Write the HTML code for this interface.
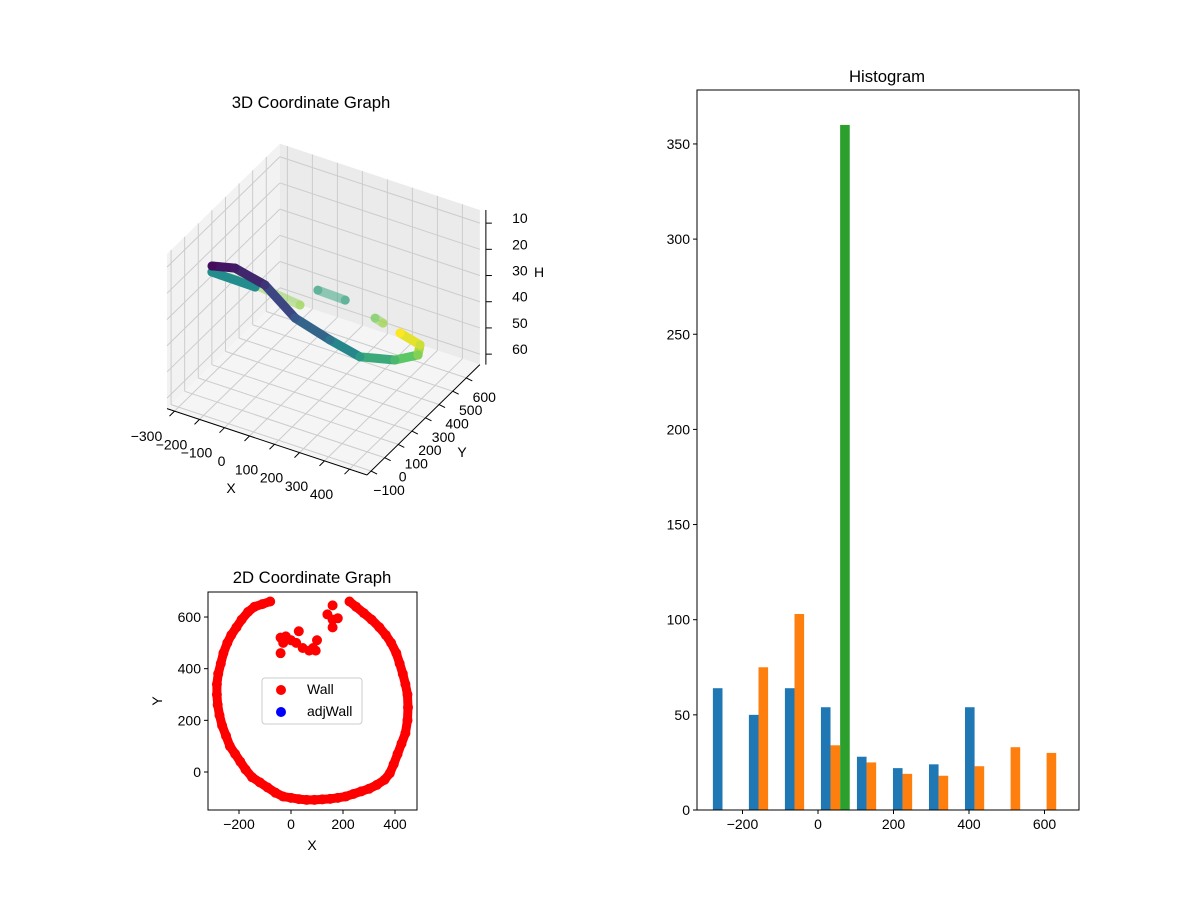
<!DOCTYPE html>
<html><head><meta charset="utf-8"><style>
body{margin:0;background:#fff}
svg{display:block;font-family:"Liberation Sans","DejaVu Sans",sans-serif}
</style></head><body>
<svg id="s" width="1200" height="900" viewBox="0 0 1200 900">
<rect width="1200" height="900" fill="#fff"/>
<g id="g3d"></g>
<g id="g2d"></g>
<g id="ghist"></g>
</svg>
<script>
// ---------- 3D data ----------
const p3x = [-215,-156,-47,96,219,296,354,352,279,151];
const p3y = [-10,50,70,29,59,138,288,462,611,699];
const p3h = [12,14,18,24,30,38,45,52,58,62];
const f1x = [-49,63], f1y=[463,458], f1h=[40,40];
const f2x = [127,126], f2y=[560,620], f2h=[50,55];
const f3x = [-169,-347,-483], f3y=[552,552,542], f3h=[54,52,52];
const f4x = [-381,-206], f4y=[294,290], f4h=[35,35];
const xTicks3=[-300,-200,-100,0,100,200,300,400];
const yTicks3=[-100,0,100,200,300,400,500,600];
const hTicks3=[10,20,30,40,50,60];
// ---------- 2D data ----------
const wallX=[-80,-110,-140,-165,-190,-210,-230,-245,-260,-270,-280,-285,-285,-282,-275,-265,-250,-235,-215,-195,-175,-150,-120,-90,-60,-30,0,30,60,90,120,150,180,210,240,270,300,330,360,380,395,410,425,440,448,450,448,440,430,418,405,385,365,340,310,280,250,225];
const wallY=[660,650,640,620,590,560,530,500,460,420,380,340,300,260,220,180,140,100,70,40,10,-20,-40,-60,-80,-95,-100,-105,-108,-108,-106,-104,-100,-95,-85,-75,-65,-50,-30,-5,30,70,110,150,200,250,300,340,380,420,460,500,530,560,590,615,640,660];
const innerX=[-40,-30,-20,0,20,30,45,70,85,100,95,-40,140,160,160,160,180];
const innerY=[520,500,525,510,500,545,480,470,480,510,470,460,610,645,590,560,595];
const xTicks2=[-200,0,200,400], yTicks2=[0,200,400,600];
// ---------- Histogram data ----------
const binStart=-288, binWidth=95.4;
const histBlue=[64,50,64,54,28,22,24,54,0,0];
const histOrange=[0,75,103,34,25,19,18,23,33,30];
const histGreen=[0,0,0,360,0,0,0,0,0,0];
const hxTicks=[-200,0,200,400,600], hyTicks=[0,50,100,150,200,250,300,350];

const NS="http://www.w3.org/2000/svg";
function mk(parent,tag,attrs,name){const e=document.createElementNS(NS,tag);for(const k in attrs)e.setAttribute(k,attrs[k]);


parent.appendChild(e);return e;}
function txt(parent,x,y,s,size,anchor,name){const t=mk(parent,'text',{x:x,y:y,'font-size':size,'text-anchor':anchor||'middle',fill:'#000'},name);t.textContent=s;return t;}

// ===== 3D =====
const g3=document.getElementById('g3d');
const XMIN=-330,XMAX=470,YMIN=-130,YMAX=700,HMIN=5,HMAX=64;
function P(x,y,h){const u=x-470,v=y+130;return [367+0.25*u+0.136*v, 475+0.083*u-0.133*v-(64-h)*2.62];}
function poly(pts,fill,name){mk(g3,'polygon',{points:pts.map(p=>p.join(',')).join(' '),fill:fill,stroke:'none'},name);}
poly([P(XMIN,YMIN,HMIN),P(XMIN,YMAX,HMIN),P(XMIN,YMAX,HMAX),P(XMIN,YMIN,HMAX)],'#f2f2f2','left-pane');
poly([P(XMIN,YMAX,HMIN),P(XMAX,YMAX,HMIN),P(XMAX,YMAX,HMAX),P(XMIN,YMAX,HMAX)],'#ebebeb','back-pane');
poly([P(XMIN,YMIN,HMAX),P(XMAX,YMIN,HMAX),P(XMAX,YMAX,HMAX),P(XMIN,YMAX,HMAX)],'#f5f5f5','floor-pane');
function ln(g,a,b,st,w,name){mk(g,'line',{x1:a[0],y1:a[1],x2:b[0],y2:b[1],stroke:st,'stroke-width':w},name);}
const gc='#cccccc';
xTicks3.forEach(x=>{ln(g3,P(x,YMIN,HMAX),P(x,YMAX,HMAX),gc,1,'x-gridline-floor');ln(g3,P(x,YMAX,HMAX),P(x,YMAX,HMIN),gc,1,'x-gridline-back');});
yTicks3.forEach(y=>{ln(g3,P(XMIN,y,HMAX),P(XMAX,y,HMAX),gc,1,'y-gridline-floor');ln(g3,P(XMIN,y,HMAX),P(XMIN,y,HMIN),gc,1,'y-gridline-left');});
hTicks3.forEach(h=>{ln(g3,P(XMIN,YMIN,h),P(XMIN,YMAX,h),gc,1,'h-gridline-left');ln(g3,P(XMIN,YMAX,h),P(XMAX,YMAX,h),gc,1,'h-gridline-back');});
ln(g3,P(XMIN,YMIN,HMAX),P(XMAX,YMIN,HMAX),'#000',1,'x-axis-line');
ln(g3,P(XMAX,YMIN,HMAX),P(XMAX,YMAX,HMAX),'#000',1,'y-axis-line');
const zb=P(XMAX,YMAX,HMAX),zt=P(XMAX,YMAX,HMIN);
ln(g3,[zb[0]+6,zb[1]],[zt[0]+6,zt[1]],'#000',1,'h-axis-line');
xTicks3.forEach(x=>{const p=P(x,YMIN,HMAX);ln(g3,p,[p[0]-5,p[1]+5],'#000',1,'x-tick');txt(g3,p[0]-28,p[1]+30,String(x).replace('-','\u2212'),14,'middle','x-tick-label');});
yTicks3.forEach(y=>{const p=P(XMAX,y,HMAX);ln(g3,p,[p[0]+6,p[1]+3],'#000',1,'y-tick');txt(g3,p[0]+18,p[1]+24,String(y).replace('-','\u2212'),14,'middle','y-tick-label');});
hTicks3.forEach(h=>{const p=P(XMAX,YMAX,h);ln(g3,[p[0]+6,p[1]],[p[0]+12,p[1]],'#000',1,'h-tick');txt(g3,p[0]+40,p[1]+0,String(h),14,'middle','h-tick-label');});
txt(g3,231,493,'X',14,'middle','x-axis-title');
txt(g3,462,457,'Y',14,'middle','y-axis-title');
txt(g3,539,277,'H',14,'middle','h-axis-title');
txt(g3,311,108,'3D Coordinate Graph',16.7,'middle','3d-chart-title');
const VS=[[68,1,84],[59,82,139],[33,145,140],[94,201,98],[253,231,37]];
function vir(h){let t=(h-10)/52;t=Math.max(0,Math.min(1,t));const s=t*4,i=Math.min(3,Math.floor(s)),f=s-i;const a=VS[i],b=VS[i+1];return 'rgb('+a.map((c,k)=>Math.round(c+(b[k]-c)*f)).join(',')+')';}
function path3(xs,ys,hs,op,name){for(let i=0;i<xs.length-1;i++){const a=P(xs[i],ys[i],hs[i]),b=P(xs[i+1],ys[i+1],hs[i+1]);mk(g3,'line',{x1:a[0],y1:a[1],x2:b[0],y2:b[1],stroke:vir((hs[i]+hs[i+1])/2),'stroke-width':9,'stroke-linecap':'round',opacity:op},name);}
for(let i=0;i<xs.length;i++){const a=P(xs[i],ys[i],hs[i]);mk(g3,'circle',{cx:a[0],cy:a[1],r:4.5,fill:vir(hs[i]),opacity:op},name+'-point');}}
path3(f3x,f3y,f3h,0.5,'faded-path-back');
path3(f1x,f1y,f1h,0.5,'faded-path-mid');
path3(f2x,f2y,f2h,0.5,'faded-path-right');
path3(f4x,f4y,f4h,1,'teal-path-left');
path3(p3x,p3y,p3h,1,'main-path');

// ===== 2D =====
const g2=document.getElementById('g2d');
const X2=x=>291+x*0.26, Y2=y=>772-y*0.2583;
mk(g2,'polyline',{points:wallX.map((x,i)=>X2(x)+','+Y2(wallY[i])).join(' '),fill:'none',stroke:'#ff0000','stroke-width':9,'stroke-linejoin':'round'},'wall-trace');
wallX.forEach((x,i)=>mk(g2,'circle',{cx:X2(x),cy:Y2(wallY[i]),r:5,fill:'#ff0000'},'wall-point'));
innerX.forEach((x,i)=>mk(g2,'circle',{cx:X2(x),cy:Y2(innerY[i]),r:5,fill:'#ff0000'},'wall-point'));
mk(g2,'rect',{x:208,y:592,width:209,height:218,fill:'none',stroke:'#000','stroke-width':1},'2d-axes-frame');
xTicks2.forEach(x=>{ln(g2,[X2(x),810],[X2(x),814],'#000',1,'x-tick');txt(g2,X2(x),829,String(x).replace('-','\u2212'),14,'middle','x-tick-label');});
yTicks2.forEach(y=>{ln(g2,[204,Y2(y)],[208,Y2(y)],'#000',1,'y-tick');txt(g2,201,Y2(y)+5,String(y),14,'end','y-tick-label');});
txt(g2,312,850,'X',14,'middle','x-axis-title');
const yt=txt(g2,162,701,'Y',14,'middle','y-axis-title');yt.setAttribute('transform','rotate(-90 162 701)');
txt(g2,312,583,'2D Coordinate Graph',16.7,'middle','2d-chart-title');
const lg=mk(g2,'g',{},'legend');
mk(lg,'rect',{x:262,y:678,width:100,height:46,rx:3,fill:'#fff',stroke:'#ccc','fill-opacity':0.8},'legend-box');
mk(lg,'circle',{cx:281,cy:690,r:5,fill:'#ff0000'},'legend-marker-wall');
txt(lg,307,694,'Wall',14,'start','legend-label-wall');
mk(lg,'circle',{cx:281,cy:712,r:5,fill:'#0000ff'},'legend-marker-adjwall');
txt(lg,307,716,'adjWall',14,'start','legend-label-adjwall');

// ===== Histogram =====
const gh=document.getElementById('ghist');
const HX=x=>818+x*0.3775, HY=v=>810-v*1.903;
const series=[[histBlue,'#1f77b4','blue'],[histOrange,'#ff7f0e','orange'],[histGreen,'#2ca02c','green']];
const bw=binWidth*0.8/3;
series.forEach((s,si)=>{s[0].forEach((v,i)=>{if(v<=0)return;const x0=binStart+i*binWidth+binWidth*0.1+si*bw;
mk(gh,'rect',{x:HX(x0),y:HY(v),width:bw*0.3775,height:810-HY(v),fill:s[1]},'bar-'+s[2]+'-bin'+i);});});
mk(gh,'rect',{x:697,y:90,width:382,height:720,fill:'none',stroke:'#000','stroke-width':1},'histogram-axes-frame');
hxTicks.forEach(x=>{ln(gh,[HX(x),810],[HX(x),814],'#000',1,'x-tick');txt(gh,HX(x),829,String(x).replace('-','\u2212'),14,'middle','x-tick-label');});
hyTicks.forEach(v=>{ln(gh,[693,HY(v)],[697,HY(v)],'#000',1,'y-tick');txt(gh,690,HY(v)+5,String(v),14,'end','y-tick-label');});
txt(gh,887,82,'Histogram',16.7,'middle','histogram-title');
</script>
</body></html>
